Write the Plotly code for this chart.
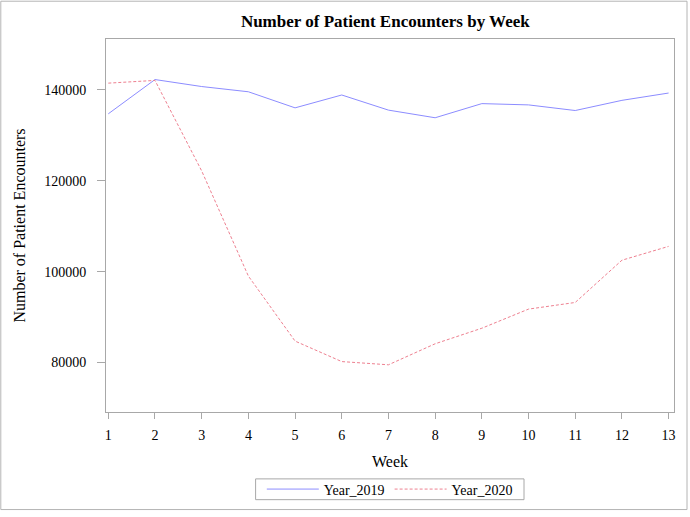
import plotly.graph_objects as go

weeks = list(range(1, 14))
year_2019 = [134750, 142290, 140750, 139600, 136060, 138890, 135560,
             133880, 136990, 136710, 135470, 137710, 139320]
year_2020 = [141500, 142100, 122180, 99030, 84720, 80210, 79500,
             84130, 87550, 91760, 93220, 102520, 105570]
y_ticks = [80000, 100000, 120000, 140000]
x_ticks = weeks

FONT = "Liberation Serif, Times New Roman, serif"
GRAY = "#a8a8a8"

fig = go.Figure()
fig.add_trace(go.Scatter(x=weeks, y=year_2019, mode="lines", name="Year_2019",
                         line=dict(color="#8c8cff", width=1)))
fig.add_trace(go.Scatter(x=weeks, y=year_2020, mode="lines", name="Year_2020",
                         line=dict(color="#ee8090", width=1, dash="3px,2px")))

L, R, T, B = 105.7, 673.7, 38.7, 415.7
W, H = 690, 517
pw, ph = R - L, B - T

def px(x):
    return (x - L) / pw

def py(y):
    return (B - y) / ph

fig.update_layout(
    width=W, height=H,
    margin=dict(l=L, r=W - R, t=T, b=H - B, pad=0),
    paper_bgcolor="white", plot_bgcolor="white",
    font=dict(family=FONT, color="black", size=13),
    title=dict(text="<b>Number of Patient Encounters by Week</b>",
               x=px(385), xref="paper", xanchor="center",
               y=1 - 21 / H, yanchor="middle",
               font=dict(family=FONT, size=17, color="black")),
    xaxis=dict(range=[1 - 2.3 / 46.69, 13 + 5.4 / 46.69],
               tickvals=x_ticks, ticktext=[str(v) for v in x_ticks],
               ticks="outside", ticklen=6, tickcolor=GRAY, tickwidth=1,
               showline=True, linecolor=GRAY, linewidth=1, mirror=True,
               showgrid=False, zeroline=False,
               tickfont=dict(family=FONT, size=14),
               ticklabelstandoff=4,
               title=dict(text="Week", font=dict(family=FONT, size=16), standoff=14)),
    yaxis=dict(range=[69111, 151215],
               tickvals=y_ticks, ticktext=[str(v) for v in y_ticks],
               ticks="outside", ticklen=8, tickcolor=GRAY, tickwidth=1,
               showline=True, linecolor=GRAY, linewidth=1, mirror=True,
               showgrid=False, zeroline=False,
               tickfont=dict(family=FONT, size=14),
               ticklabelstandoff=8,
               title=dict(text="Number of Patient Encounters",
                          font=dict(family=FONT, size=16), standoff=14)),
    legend=dict(orientation="h", x=px(389.5), xanchor="center",
                y=py(494), yanchor="middle",
                borderwidth=0, bgcolor="rgba(0,0,0,0)",
                font=dict(family=FONT, size=14), itemwidth=52,
                traceorder="normal"),
    showlegend=True,
    shapes=[
        dict(type="rect", xref="paper", yref="paper",
             x0=px(0.5), x1=px(686.7), y0=py(514.3), y1=py(0.5),
             line=dict(color="#b4b4b4", width=1), layer="below"),
        dict(type="rect", xref="paper", yref="paper",
             x0=px(255.3), x1=px(523.7), y0=py(504.3), y1=py(483.3),
             line=dict(color=GRAY, width=1), fillcolor="white", layer="below"),
    ],
)

fig.write_html("out.html",
               config={"displayModeBar": False},
               post_script="document.body.style.margin='0px'; document.body.style.padding='0px';")
